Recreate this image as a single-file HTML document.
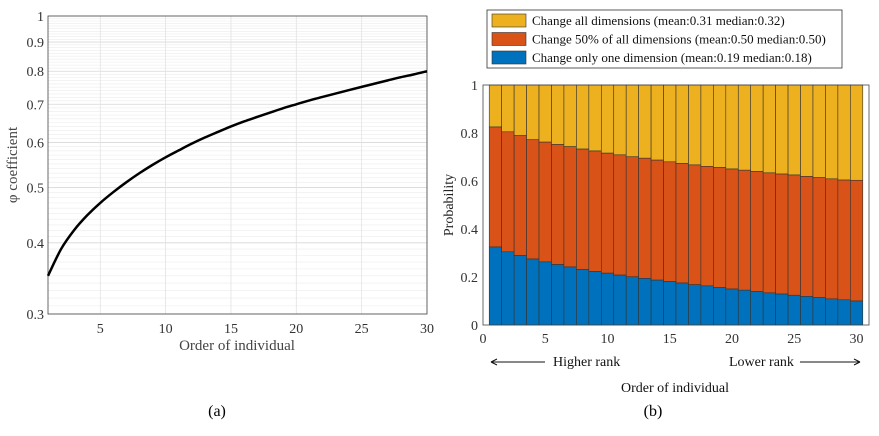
<!DOCTYPE html>
<html><head><meta charset="utf-8"><style>
body{margin:0;background:#fff;}
svg text{font-family:"Liberation Serif",serif;}
</style></head><body>
<svg id="root" width="879" height="431" xmlns="http://www.w3.org/2000/svg">
<g id="left"></g>
<g id="right"></g>
<text x="217" y="416" font-size="16" text-anchor="middle">(a)</text>
<text x="653" y="416" font-size="16" text-anchor="middle">(b)</text>
</svg>
<script>
const phiX=[1,2,3,4,5,6,7,8,9,10,11,12,13,14,15,16,17,18,19,20,21,22,23,24,25,26,27,28,29,30];
const phiY=[0.35,0.39,0.421,0.447,0.47,0.491,0.511,0.53,0.548,0.565,0.581,0.597,0.612,0.626,0.64,0.653,0.665,0.677,0.689,0.7,0.711,0.721,0.731,0.741,0.751,0.761,0.771,0.781,0.79,0.8];
const leftXTicks=[5,10,15,20,25,30];
const leftYTicks=[0.3,0.4,0.5,0.6,0.7,0.8,0.9,1];
const barCats=[1,2,3,4,5,6,7,8,9,10,11,12,13,14,15,16,17,18,19,20,21,22,23,24,25,26,27,28,29,30];
const blueVals=[0.325,0.305,0.29,0.275,0.263,0.252,0.242,0.232,0.223,0.216,0.208,0.201,0.194,0.187,0.181,0.175,0.168,0.163,0.157,0.15,0.145,0.14,0.134,0.129,0.124,0.119,0.114,0.109,0.105,0.1];
const orangeVals=[0.5,0.5,0.499,0.497,0.499,0.5,0.501,0.501,0.502,0.5,0.501,0.5,0.501,0.5,0.499,0.498,0.499,0.498,0.5,0.5,0.5,0.5,0.5,0.5,0.501,0.5,0.5,0.5,0.499,0.503];
const rightXTicks=[0,5,10,15,20,25,30];
const rightYTicks=[0,0.2,0.4,0.6,0.8,1];
const legendLabels=["Change all dimensions (mean:0.31 median:0.32)","Change 50% of all dimensions (mean:0.50 median:0.50)","Change only one dimension (mean:0.19 median:0.18)"];
const NS="http://www.w3.org/2000/svg";
function mk(p,t,a,txt){const e=document.createElementNS(NS,t);for(const k in a)e.setAttribute(k,a[k]);if(txt!==undefined)e.textContent=txt;p.appendChild(e);return e;}
// left
const L=document.getElementById('left');
const lx=v=>48+(v-1)*(427-48)/29;
const ly=v=>314-(Math.log(v)-Math.log(0.3))/(Math.log(1)-Math.log(0.3))*(314-16);
for(let i=30;i<=100;i++){const v=i/100;const y=ly(v);const maj=i%10===0;
 const g=mk(L,'line',{x1:48,x2:427,y1:y,y2:y,stroke:maj?'#d8d8d8':'#ececec','stroke-width':maj?0.8:0.6});
 }
leftXTicks.forEach(t=>{const g=mk(L,'line',{x1:lx(t),x2:lx(t),y1:16,y2:314,stroke:'#e2e2e2','stroke-width':0.8});
 
 const tx=mk(L,'text',{x:lx(t),y:333,'font-size':14,'text-anchor':'middle',fill:'#333'},t);
 });
leftYTicks.forEach(t=>{const tx=mk(L,'text',{x:44,y:ly(t)+5,'font-size':14,'text-anchor':'end',fill:'#333'},String(t));
 });
const lb=mk(L,'rect',{x:48,y:16,width:379,height:298,fill:'none',stroke:'#444','stroke-width':0.8});

const P=phiX.map((x,i)=>[lx(x),ly(phiY[i])]);
let d='M'+P[0][0]+' '+P[0][1];
for(let i=0;i<P.length-1;i++){const p0=P[Math.max(i-1,0)],p1=P[i],p2=P[i+1],p3=P[Math.min(i+2,P.length-1)];
 d+=' C'+(p1[0]+(p2[0]-p0[0])/6)+' '+(p1[1]+(p2[1]-p0[1])/6)+' '+(p2[0]-(p3[0]-p1[0])/6)+' '+(p2[1]-(p3[1]-p1[1])/6)+' '+p2[0]+' '+p2[1];}
const pl=mk(L,'path',{d:d,fill:'none',stroke:'#000','stroke-width':2.5});

const lxt=mk(L,'text',{x:237,y:350,'font-size':15,'text-anchor':'middle',fill:'#444'},'Order of individual');

const lyt=mk(L,'text',{x:0,y:0,'font-size':15,'text-anchor':'middle',fill:'#444',transform:'translate(17,165) rotate(-90)'},'φ coefficient');

// right
const R=document.getElementById('right');
const rx=v=>483+v*(869-483)/31;
const ry=v=>325-v*240;
const bw=(869-483)/31;
barCats.forEach((c,i)=>{const b=blueVals[i],o=orangeVals[i];
 const r1=mk(R,'rect',{x:rx(c)-bw/2,y:ry(1),width:bw,height:ry(b+o)-ry(1),fill:'#EDB120',stroke:'#333','stroke-width':0.6});
 
 const r2=mk(R,'rect',{x:rx(c)-bw/2,y:ry(b+o),width:bw,height:ry(b)-ry(b+o),fill:'#D95319',stroke:'#333','stroke-width':0.6});
 
 const r3=mk(R,'rect',{x:rx(c)-bw/2,y:ry(b),width:bw,height:ry(0)-ry(b),fill:'#0072BD',stroke:'#333','stroke-width':0.6});
 });
const rb=mk(R,'rect',{x:483,y:85,width:386,height:240,fill:'none',stroke:'#444','stroke-width':0.8});

rightXTicks.forEach(t=>{const tx=mk(R,'text',{x:rx(t),y:343,'font-size':14,'text-anchor':'middle',fill:'#333'},t);
 });
rightYTicks.forEach(t=>{const tx=mk(R,'text',{x:478,y:ry(t)+5,'font-size':14,'text-anchor':'end',fill:'#333'},String(t));
 });
const ryt=mk(R,'text',{x:0,y:0,'font-size':14,'text-anchor':'middle',fill:'#222',transform:'translate(453,205) rotate(-90)'},'Probability');

const hr=mk(R,'text',{x:553,y:366,'font-size':14,fill:'#111'},'Higher rank');

const lr=mk(R,'text',{x:729,y:366,'font-size':14,fill:'#111'},'Lower rank');

const a1=mk(R,'path',{d:'M545 362 H491 M491 362 l6 -3 M491 362 l6 3',stroke:'#111','stroke-width':1,fill:'none'});

const a2=mk(R,'path',{d:'M800 362 H860 M860 362 l-6 -3 M860 362 l-6 3',stroke:'#111','stroke-width':1,fill:'none'});

const rxt=mk(R,'text',{x:675,y:392,'font-size':14,'text-anchor':'middle',fill:'#111'},'Order of individual');

// legend
const lg=mk(R,'rect',{x:487,y:10,width:355,height:58,fill:'#fff',stroke:'#333','stroke-width':0.8});

const cols=['#EDB120','#D95319','#0072BD'];
legendLabels.forEach((t,i)=>{const y=14+i*18.5;
 const sw=mk(R,'rect',{x:492,y:y,width:34,height:13,fill:cols[i],stroke:'#333','stroke-width':0.6});
 
 const tx=mk(R,'text',{x:532,y:y+11,'font-size':13,fill:'#111'},t);
 });
</script>
</body></html>
